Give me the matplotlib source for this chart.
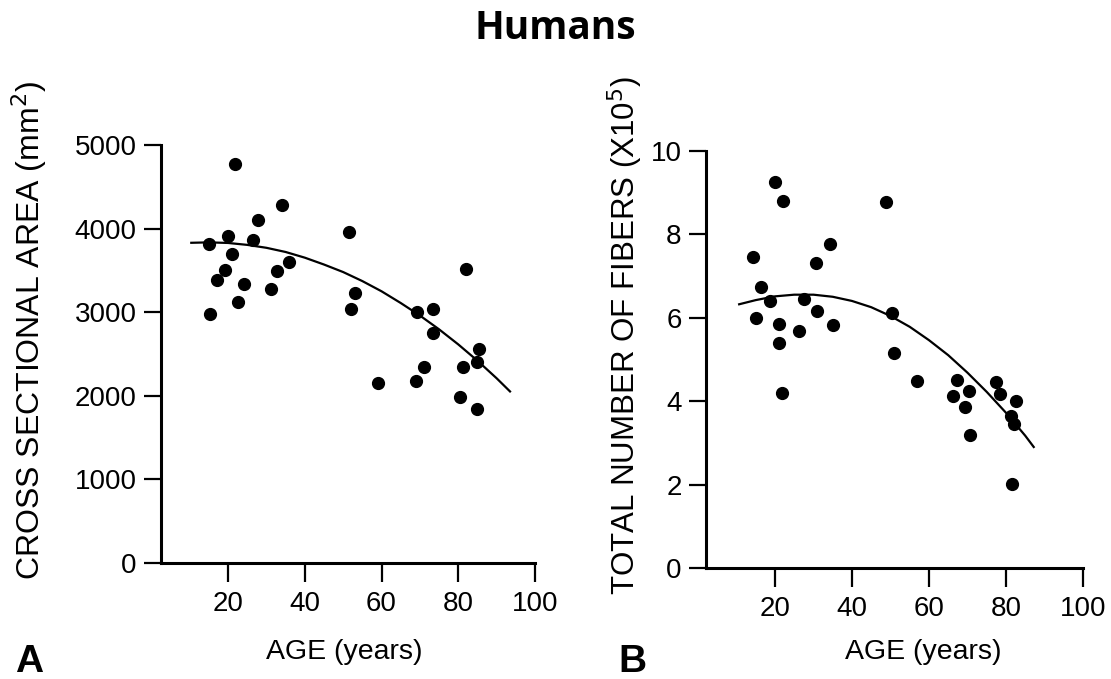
import matplotlib
matplotlib.use("Agg")
import matplotlib.pyplot as plt

# Panel A: cross sectional area vs age
age_a = [15.0, 21.9, 20.0, 21.0, 19.1, 17.0, 24.1, 22.5, 15.4, 26.4,
         27.7, 34.1, 32.8, 31.2, 36.0, 51.6, 53.0, 52.1, 59.2, 69.2,
         73.5, 73.3, 71.2, 68.9, 82.0, 81.2, 80.5, 85.0, 85.3, 84.8]
area_a = [3813, 4769, 3912, 3697, 3506, 3386, 3335, 3119, 2976, 3864,
          4104, 4279, 3494, 3279, 3598, 3964, 3227, 3036, 2151, 3008,
          3036, 2757, 2343, 2179, 3518, 2339, 1980, 1841, 2562, 2410]
fit_age_a = [10.4, 15, 20, 25, 30, 35, 40, 45, 50, 55, 60, 65, 70, 75,
             80, 85, 90, 93.5]
fit_area_a = [3830, 3835, 3828, 3805, 3770, 3720, 3652, 3570, 3480, 3372,
              3250, 3110, 2960, 2795, 2615, 2420, 2210, 2052]

# Panel B: total number of fibers (x10^5) vs age
age_b = [14.2, 20.0, 22.0, 16.4, 18.7, 15.1, 21.0, 21.0, 21.7, 27.5,
         26.3, 30.6, 30.8, 34.4, 35.1, 48.8, 50.3, 51.0, 57.0, 67.3,
         66.3, 70.4, 69.3, 70.6, 77.5, 78.4, 82.5, 81.4, 82.0, 81.6]
fibers_b = [7.46, 9.24, 8.79, 6.74, 6.40, 5.99, 5.85, 5.39, 4.19, 6.45,
            5.67, 7.30, 6.17, 7.76, 5.83, 8.78, 6.11, 5.16, 4.49, 4.51,
            4.13, 4.25, 3.87, 3.18, 4.45, 4.17, 4.01, 3.65, 3.46, 2.01]
fit_age_b = [10.7, 15, 20, 25, 30, 35, 40, 45, 50, 55, 60, 65, 70, 75,
             80, 85, 87.2]
fit_fibers_b = [6.32, 6.42, 6.51, 6.55, 6.55, 6.50, 6.40, 6.25, 6.04, 5.78,
                5.46, 5.10, 4.68, 4.22, 3.72, 3.17, 2.90]

xticks = [20, 40, 60, 80, 100]
yticks_a = [0, 1000, 2000, 3000, 4000, 5000]
yticks_b = [0, 2, 4, 6, 8, 10]

label_font = ['Liberation Sans', 'DejaVu Sans']

fig = plt.figure(figsize=(11.11, 6.79), dpi=100)
ax_a = fig.add_axes([0.1449, 0.1708, 0.3366, 0.6157])
ax_b = fig.add_axes([0.6355, 0.1635, 0.3393, 0.6145])


def style(ax, xlim, ylim, yticks):
    ax.set_xlim(*xlim)
    ax.set_ylim(*ylim)
    ax.set_xticks(xticks)
    ax.set_yticks(yticks)
    for s in ['top', 'right']:
        ax.spines[s].set_visible(False)
    for s in ['left', 'bottom']:
        ax.spines[s].set_linewidth(2.2)
    ax.tick_params(axis='both', direction='out', width=1.6,
                   labelsize=20, color='black')
    ax.tick_params(axis='y', length=12.5, pad=5)
    ax.tick_params(axis='x', length=14, pad=6)
    for lab in ax.get_xticklabels() + ax.get_yticklabels():
        lab.set_family(label_font)
    ax.patch.set_alpha(0)


ax_a.plot(fit_age_a, fit_area_a, color='black', lw=1.6, zorder=2)
ax_a.plot(age_a, area_a, 'o', color='black', ms=8.5, zorder=3)
style(ax_a, (2.5, 100), (0, 5000), yticks_a)

ax_b.plot(fit_age_b, fit_fibers_b, color='black', lw=1.6, zorder=2)
ax_b.plot(age_b, fibers_b, 'o', color='black', ms=8.5, zorder=3)
style(ax_b, (2.1, 100), (0, 10), yticks_b)

fig.text(0.5, 0.958, 'Humans', ha='center', va='center', fontsize=28,
         fontweight='bold', family=['Open Sans', 'DejaVu Sans'])

fig.text(0.026, 0.514, 'CROSS SECTIONAL AREA (mm$^2$)', rotation=90,
         ha='center', va='center', fontsize=23, family=label_font)
fig.text(0.5625, 0.506, 'TOTAL NUMBER OF FIBERS (X10$^5$)', rotation=90,
         ha='center', va='center', fontsize=22.5, family=label_font)

fig.text(0.3096, 0.040, 'AGE (years)', ha='center', va='center',
         fontsize=20.5, family=label_font)
fig.text(0.8308, 0.040, 'AGE (years)', ha='center', va='center',
         fontsize=20.5, family=label_font)

fig.text(0.026, 0.025, 'A', ha='center', va='center', fontsize=28,
         fontweight='bold', family=label_font)
fig.text(0.569, 0.025, 'B', ha='center', va='center', fontsize=28,
         fontweight='bold', family=label_font)

fig.savefig('out.png', dpi=100)
